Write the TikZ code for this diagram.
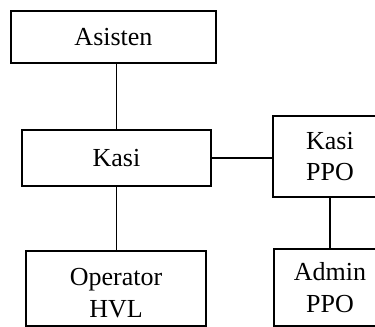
\documentclass[tikz,border=0pt]{standalone}
\usepackage{fontspec}
\setmainfont{Liberation Serif}
\usetikzlibrary{positioning, calc}

\begin{document}
\begin{tikzpicture}[
    x=0.4pt, y=-0.4pt,
    unit/.style={rectangle, draw, line width=0.8pt, align=center, inner sep=0pt, font=\fontsize{10.4}{12.6}\selectfont},
    link/.style={line width=0.75pt}
]
    \clip (0,0) rectangle (375,327);
    \node[unit, minimum width=82pt, minimum height=20.8pt] (asisten) at (113.5, 37) {Asisten};
    \node[unit, minimum width=75.6pt, minimum height=22.4pt] (kasi) at (116.5, 158) {Kasi};
    \node[unit, minimum width=45.6pt, minimum height=32.4pt] (kasippo) at (330, 156.5) {Kasi\\PPO};
    \node[unit, minimum width=72pt, minimum height=30pt] (operator) at (116, 288.5) {\rule{0pt}{10.4pt}Operator\\HVL};
    \node[unit, minimum width=44.8pt, minimum height=30.8pt] (admin) at (330, 287.5) {Admin\\PPO};

    \draw[link] (kasi.north) -- (kasi.north |- asisten.south);
    \draw[link] (kasi.south) -- (kasi.south |- operator.north);
    \draw[link] (kasi.east) -- (kasippo.west |- kasi.east);
    \draw[link] (kasippo) -- (admin);
\end{tikzpicture}
\end{document}
